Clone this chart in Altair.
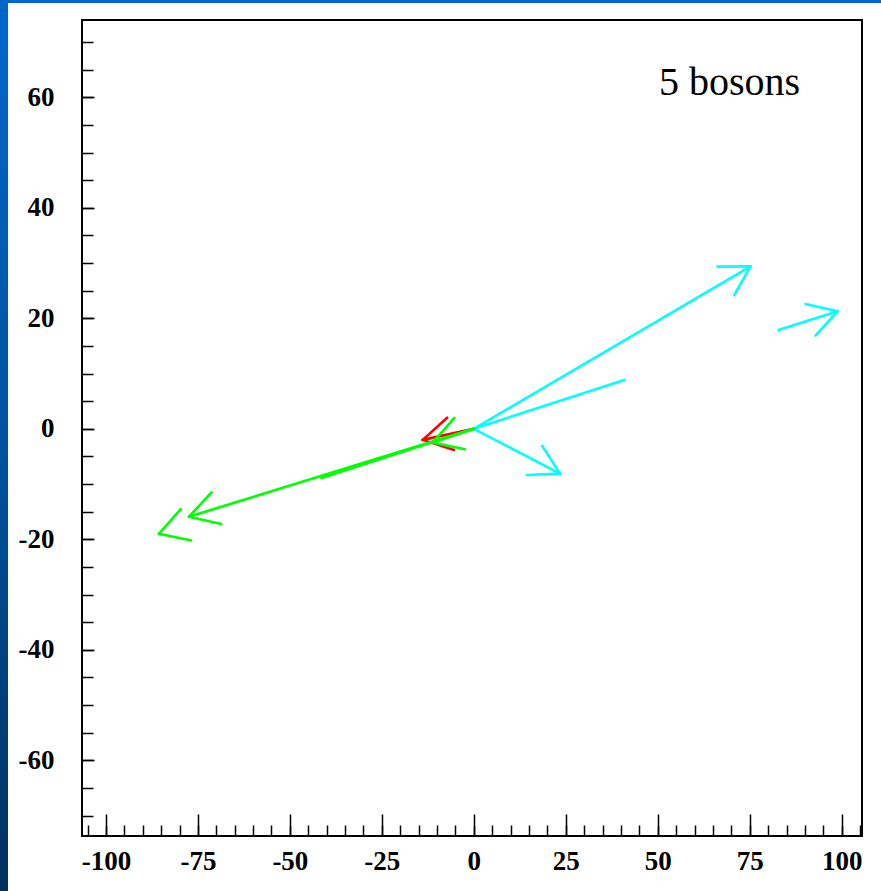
import altair as alt
import numpy as np
import pandas as pd

# Transverse momentum vectors of the decay products (GeV): tail -> tip
COLOR = ["cyan", "cyan", "cyan", "cyan", "red", "green", "green", "green", "green"]
TAIL_X = [0.0, 0.0, 0.0, 82.8, 0.0, 0.0, 0.0, 0.0, 0.0]
TAIL_Y = [0.0, 0.0, 0.0, 17.9, 0.0, 0.0, 0.0, 0.0, 0.0]
TIP_X = [75.2, 40.9, 23.4, 98.9, -13.9, -77.4, -41.4, -11.2, -85.6]
TIP_Y = [29.4, 8.85, -8.1, 21.3, -2.0, -15.9, -8.9, -2.5, -19.0]
SHAFT = [True, True, True, True, True, True, True, True, False]
HEAD = [True, False, True, True, True, True, False, True, True]

COLOR_DOMAIN = ["cyan", "red", "green"]
COLOR_RANGE = ["#00FFFF", "#FF0000", "#00FF00"]

X_DOMAIN = [-106.5, 105.5]
Y_DOMAIN = [-73.7, 74.0]
X_MAJOR = list(range(-100, 101, 25))
X_MINOR = list(range(-105, 106, 5))
Y_MAJOR = list(range(-60, 61, 20))
Y_MINOR = list(range(-70, 71, 5))

TITLE = "5 bosons"

W, H = 780, 816
PX_X = W / (X_DOMAIN[1] - X_DOMAIN[0])
PX_Y = H / (Y_DOMAIN[1] - Y_DOMAIN[0])
HEAD_LEN = 33.0              # arrow head arm length in pixels
HEAD_ANGLE = np.radians(30)  # half opening angle of the head

# Build segments: shafts plus the two arms of each arrow head
rows = []
for i in range(len(COLOR)):
    x0, y0, x1, y1 = TAIL_X[i], TAIL_Y[i], TIP_X[i], TIP_Y[i]
    if SHAFT[i]:
        rows.append(dict(x=x0, y=y0, x2=x1, y2=y1, color=COLOR[i]))
    if HEAD[i]:
        dx, dy = (x1 - x0) * PX_X, (y1 - y0) * PX_Y
        n = np.hypot(dx, dy)
        ux, uy = -dx / n, -dy / n
        for s in (1, -1):
            a = s * HEAD_ANGLE
            rx = ux * np.cos(a) - uy * np.sin(a)
            ry = ux * np.sin(a) + uy * np.cos(a)
            rows.append(dict(x=x1, y=y1,
                             x2=x1 + HEAD_LEN * rx / PX_X,
                             y2=y1 + HEAD_LEN * ry / PX_Y,
                             color=COLOR[i]))

seg = pd.DataFrame(rows)
seg["rank"] = seg["color"].map({c: k for k, c in enumerate(COLOR_DOMAIN)})
seg = seg.sort_values("rank", kind="stable").reset_index(drop=True)

xs = alt.Scale(domain=X_DOMAIN, nice=False, zero=False)
ys = alt.Scale(domain=Y_DOMAIN, nice=False, zero=False)

FONT = "Liberation Serif"

x_labels = alt.Axis(values=X_MAJOR, ticks=False, domain=False, grid=False,
                    labelFont=FONT, labelFontWeight="bold", labelFontSize=27,
                    labelColor="black", labelPadding=12, labelFlush=False,
                    labelOverlap=False, labelExpr="'' + datum.value",
                    title=None, orient="bottom")
y_labels = alt.Axis(values=Y_MAJOR, ticks=False, domain=False, grid=False,
                    labelFont=FONT, labelFontWeight="bold", labelFontSize=27,
                    labelColor="black", labelPadding=28, labelFlush=False,
                    labelOverlap=False, labelExpr="'' + datum.value",
                    title=None, orient="left")


def tick_axis(values, size, orient):
    # ticks pointing into the frame: the axis is pulled inside by its tick length
    return alt.Axis(values=values, labels=False, domain=False, grid=False,
                    ticks=True, tickSize=size, tickWidth=1.5, tickColor="black",
                    offset=-size, title=None, orient=orient)


base = alt.Chart(seg)

arrows = base.mark_rule(strokeWidth=2.6, strokeCap="round").encode(
    x=alt.X("x:Q", scale=xs, axis=x_labels),
    y=alt.Y("y:Q", scale=ys, axis=y_labels),
    x2="x2:Q",
    y2="y2:Q",
    color=alt.Color("color:N", scale=alt.Scale(domain=COLOR_DOMAIN, range=COLOR_RANGE), legend=None),
)

major = base.mark_point(opacity=0).encode(
    x=alt.X("x:Q", scale=xs, axis=tick_axis(X_MAJOR, 22, "bottom")),
    y=alt.Y("y:Q", scale=ys, axis=tick_axis(Y_MAJOR, 12, "left")),
)
minor = base.mark_point(opacity=0).encode(
    x=alt.X("x:Q", scale=xs, axis=tick_axis(X_MINOR, 11, "bottom")),
    y=alt.Y("y:Q", scale=ys, axis=tick_axis(Y_MINOR, 11, "left")),
)

label = alt.Chart(pd.DataFrame({"t": [TITLE]})).mark_text(
    font=FONT, fontSize=40, align="left", baseline="alphabetic", color="black"
).encode(x=alt.value(577), y=alt.value(75), text="t:N")

# slide background strips around the figure
one = pd.DataFrame({"k": [0]})
left_strip = alt.Chart(one).mark_rect(
    fill=alt.Gradient(gradient="linear", x1=0, x2=0, y1=0, y2=1,
                      stops=[alt.GradientStop(color="#0068CC", offset=0),
                             alt.GradientStop(color="#00529F", offset=0.5),
                             alt.GradientStop(color="#00305E", offset=1)])
).encode(x=alt.value(-82), x2=alt.value(-74), y=alt.value(-20), y2=alt.value(871))
top_strip = alt.Chart(one).mark_rect(fill="#0066CC").encode(
    x=alt.value(-82), x2=alt.value(799), y=alt.value(-20), y2=alt.value(-17))

chart = alt.layer(arrows, major, minor, label, left_strip, top_strip).resolve_axis(
    x="independent", y="independent"
).properties(
    width=W, height=H,
    padding={"left": 82, "top": 20, "right": 19, "bottom": 55},
    autosize=alt.AutoSizeParams(type="none"),
    background="white",
).configure_view(stroke="black", strokeWidth=2)

chart.save("out.html", embed_options={"renderer": "svg", "actions": False})
